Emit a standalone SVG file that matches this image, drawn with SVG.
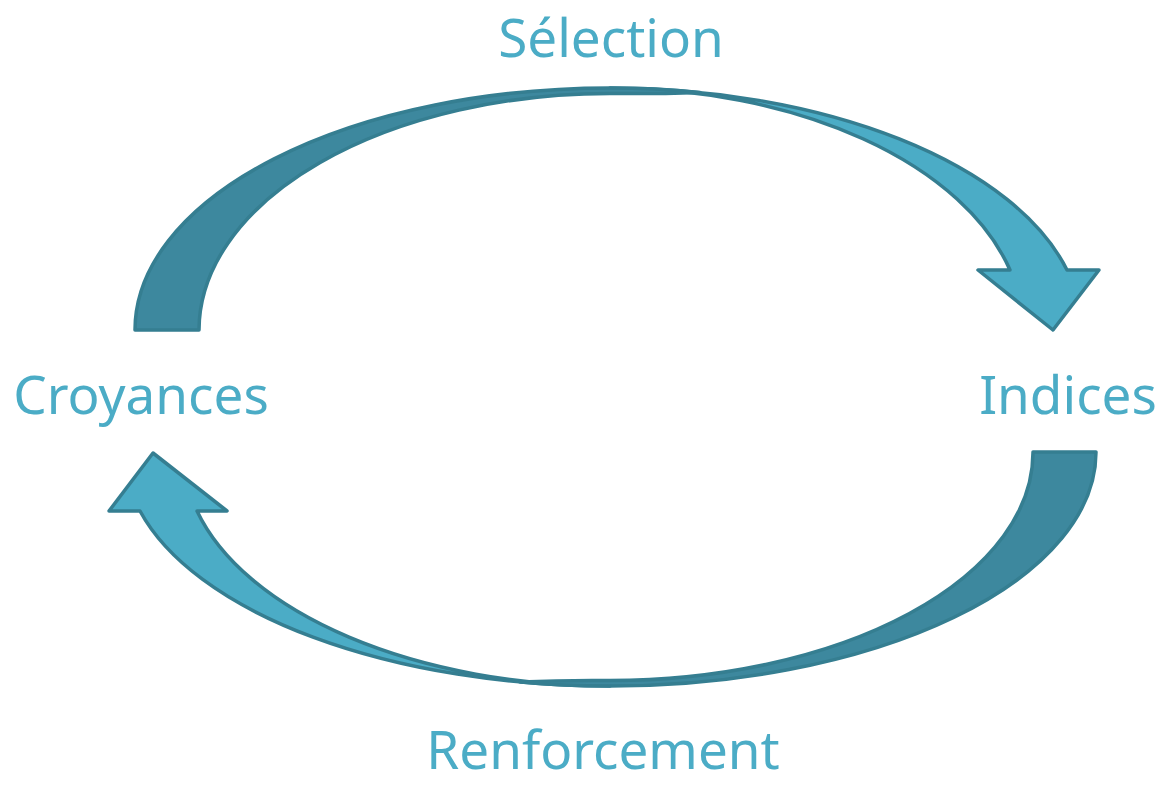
<svg xmlns="http://www.w3.org/2000/svg" width="1164" height="785" viewBox="0 0 1164 785">
<style>
.lbl{font-family:"Noto Sans","Open Sans","Liberation Sans",sans-serif;font-size:53px;fill:#4BACC6;text-anchor:middle}
.back{fill:#3D889E;stroke:#357E91;stroke-width:3.5;stroke-linejoin:round}
.front{fill:#4BACC6;stroke:#357E91;stroke-width:3.5;stroke-linejoin:round}
</style>
<rect width="1164" height="785" fill="#FFFFFF"/>
<g id="connectors">
<g id="arrow-selection">
<path class="front" d="M610,88 A472,242 0 0 1 1067,270 L1099,270 L1053,330 L978,270 L1010,270 A413,243 0 0 0 610,88 Z"/>
<path class="back" d="M135,330 A475,242 0 0 1 610,88 A475,242 0 0 1 700,92.4 Q655,94 610,93.5 A411,237 0 0 0 199,330 Z"/>
</g>
<g id="arrow-renforcement">
<path class="front" d="M610,686 A486,234 0 0 1 140,511 L109,511 L153,453 L227,511 L197,511 A427,234 0 0 0 610,686 Z"/>
<path class="back" d="M1096,452 A486,234 0 0 1 610,686 A486,234 0 0 1 520,682 Q565,680 610,680.5 A423,228 0 0 0 1033,452 Z"/>
</g>
</g>
<g id="node-selection"><text class="lbl" x="611" y="57">Sélection</text></g>
<g id="node-croyances"><text class="lbl" x="141" y="414">Croyances</text></g>
<g id="node-indices"><text class="lbl" x="1068" y="414">Indices</text></g>
<g id="node-renforcement"><text class="lbl" x="603" y="769">Renforcement</text></g>
</svg>
